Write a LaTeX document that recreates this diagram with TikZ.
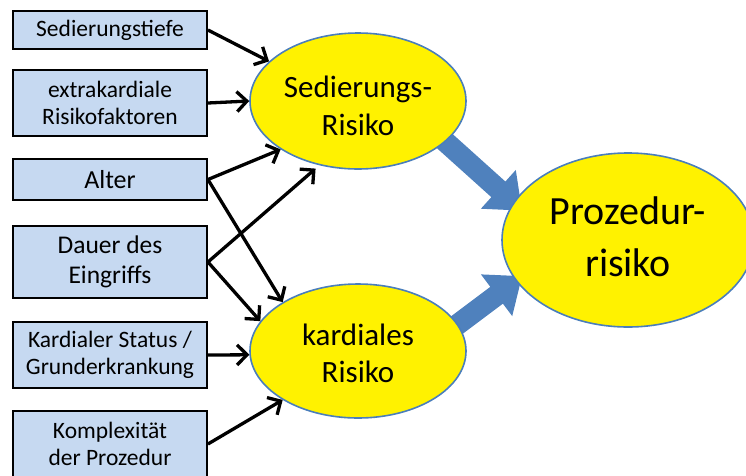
\documentclass[tikz,border=0pt]{standalone}
\usepackage{fontspec}
\setmainfont{Carlito}
\usetikzlibrary{arrows.meta,shapes.geometric,backgrounds}
\definecolor{boxfill}{RGB}{198,217,241}
\definecolor{ellborder}{RGB}{74,126,187}
\definecolor{bigarrow}{RGB}{79,129,189}
\tikzset{
  factor/.style={draw=black, line width=1.9pt, fill=boxfill, minimum width=194pt,
    inner sep=0pt, align=center, font=\fontsize{23.5}{27}\selectfont},
  risk/.style={ellipse, draw=ellborder, line width=1.6pt, fill=yellow, inner sep=0pt},
  conn/.style={line width=3.3pt, -{Straight Barb[length=10pt,width=20pt]}},
  flow/.style={line width=21pt, bigarrow, -{Triangle[length=32pt,width=50pt]}}
}
\begin{document}
\begin{tikzpicture}[x=1pt,y=-1pt]
\useasboundingbox (0,0) rectangle (746,475);
\clip (0,0) rectangle (746,475);
% factor boxes
\node[factor, minimum height=38pt] (b1) at (110,30) {Sedierungstiefe};
\node[factor, minimum height=66pt] (b2) at (110,103) {extrakardiale\\Risikofaktoren};
\node[factor, minimum height=41pt, font=\fontsize{26}{30}\selectfont] (b3) at (110,179.5) {Alter};
\node[factor, minimum height=72pt, font=\fontsize{25.5}{30}\selectfont] (b4) at (110,262) {Dauer des\\Eingriffs};
\node[factor, minimum height=66pt] (b5) at (110,355) {Kardialer Status /\\Grunderkrankung};
\node[factor, minimum height=66pt] (b6) at (110,444) {Komplexität\\der Prozedur};
% risk ellipses
\node[risk, minimum width=216pt, minimum height=136pt] (sed) at (358,101)
  {\raisebox{-8pt}[\height][\depth]{\fontsize{31}{38}\selectfont\begin{tabular}{@{}c@{}}Sedierungs-\\Risiko\end{tabular}}};
\node[risk, minimum width=216pt, minimum height=134pt] (kard) at (358,351)
  {\raisebox{-6pt}[\height][\depth]{\fontsize{31}{37}\selectfont\begin{tabular}{@{}c@{}}kardiales\\Risiko\end{tabular}}};
\node[risk, minimum width=252pt, minimum height=174pt] (proz) at (628,240)
  {\fontsize{40}{52}\selectfont\begin{tabular}{@{}c@{}}Prozedur-\\risiko\end{tabular}};
% big block arrows (behind the ellipses)
\begin{scope}[on background layer]
\draw[flow, shorten <=-12pt, shorten >=-12pt] (sed.-25) -- (proz.162);
\draw[flow, shorten <=-12pt, shorten >=-8pt] (kard.15) -- (proz.200);
\end{scope}
% connectors
\draw[conn] (b1.east) -- (sed.156);
\draw[conn] (b2.east) -- (sed.180);
\draw[conn] (b3.east) -- (sed.212);
\draw[conn] (b3.east) -- (kard.147);
\draw[conn, shorten >=5pt] (b4.east) -- (sed.239);
\draw[conn] (b4.east) -- (kard.163);
\draw[conn] (b5.east) -- (kard.182);
\draw[conn] (b6.east) -- (kard.213);
\end{tikzpicture}
\end{document}
